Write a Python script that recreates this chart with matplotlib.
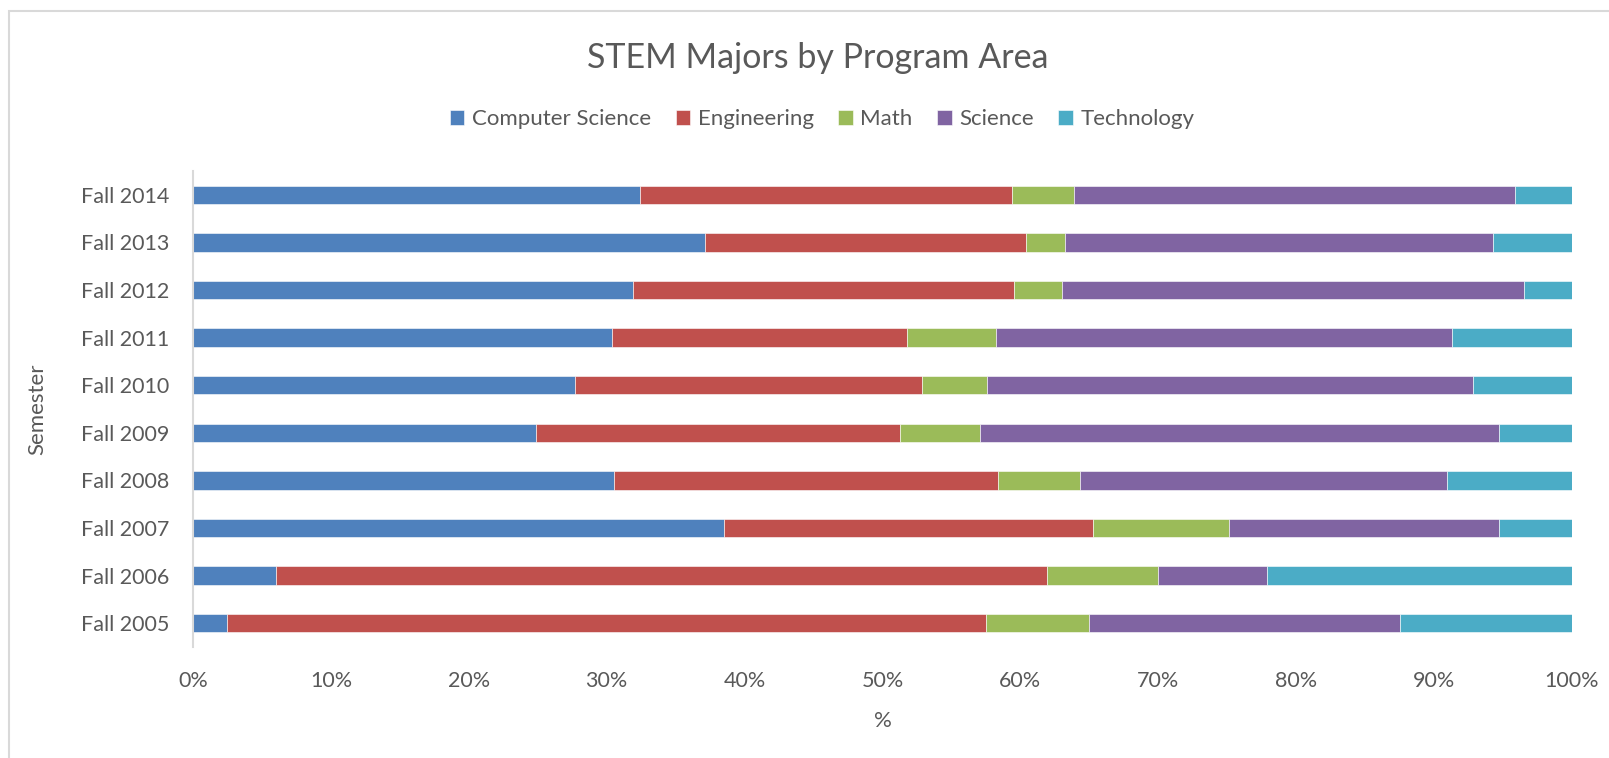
import matplotlib.pyplot as plt
import matplotlib.patches as patches
from matplotlib.ticker import PercentFormatter
import numpy as np

# datos (porcentaje por semestre)
semesters = ['Fall 2005', 'Fall 2006', 'Fall 2007', 'Fall 2008', 'Fall 2009',
             'Fall 2010', 'Fall 2011', 'Fall 2012', 'Fall 2013', 'Fall 2014']
computer_science = [2.5, 6.0, 38.5, 30.5, 24.9, 27.7, 30.4, 31.9, 37.1, 32.4]
engineering = [55.0, 55.95, 26.8, 27.9, 26.4, 25.2, 21.4, 27.6, 23.3, 27.0]
math = [7.5, 8.05, 9.8, 5.9, 5.8, 4.7, 6.4, 3.5, 2.8, 4.5]
science = [22.5, 7.9, 19.6, 26.6, 37.6, 35.2, 33.1, 33.5, 31.1, 32.0]
technology = [12.5, 22.1, 5.3, 9.1, 5.3, 7.2, 8.7, 3.5, 5.7, 4.1]

series = ['Computer Science', 'Engineering', 'Math', 'Science', 'Technology']
colors = ['#4F81BD', '#C0504D', '#9BBB59', '#8064A2', '#4BACC6']

text_color = '#595959'
plt.rcParams['font.family'] = ['Lato', 'DejaVu Sans']

fig = plt.figure(figsize=(16.09, 7.58), dpi=100)
ax = fig.add_axes([193/1609, 1 - 647/758, (1572 - 193)/1609, (647 - 171)/758])

y = np.arange(len(semesters))
left = np.zeros(len(semesters))
for name, vals, c in zip(series, [computer_science, engineering, math, science, technology], colors):
    v = np.array(vals) / 100.0
    ax.barh(y, v, left=left, height=0.39, color=c, label=name,
            edgecolor='white', linewidth=0.4)
    left += v

ax.set_xlim(0, 1)
ax.set_ylim(-0.5, len(semesters) - 0.5)
ax.set_yticks(y)
ax.set_yticklabels(semesters)
ax.set_xticks(np.arange(0, 1.01, 0.1))
ax.xaxis.set_major_formatter(PercentFormatter(1.0, decimals=0))
ax.tick_params(length=0, labelsize=15.5, colors=text_color)
ax.tick_params(axis='y', pad=17)
ax.tick_params(axis='x', pad=17)

for s in ['top', 'right', 'bottom']:
    ax.spines[s].set_visible(False)
ax.spines['left'].set_color('#d9d9d9')
ax.spines['left'].set_linewidth(1.5)

ax.set_xlabel('%', fontsize=16, color=text_color, labelpad=15)
ax.set_ylabel('Semester', fontsize=16, color=text_color, labelpad=24)

fig.text(0.508, 1 - 58/758, 'STEM Majors by Program Area', ha='center', va='center',
         fontsize=24.5, color=text_color)

leg = fig.legend(loc='center', bbox_to_anchor=(0.511, 1 - 119/758), ncol=5,
                 frameon=False, fontsize=16, handlelength=0.65, handleheight=0.65,
                 handletextpad=0.35, columnspacing=1.1)
for t in leg.get_texts():
    t.set_color(text_color)

# borde del grafico
fig.patches.append(patches.Rectangle((9/1609, -0.1), 2, (758 - 11)/758 + 0.1,
                                     transform=fig.transFigure, fill=False,
                                     edgecolor='#d9d9d9', linewidth=1.5))

plt.savefig('out.png', dpi=100)
